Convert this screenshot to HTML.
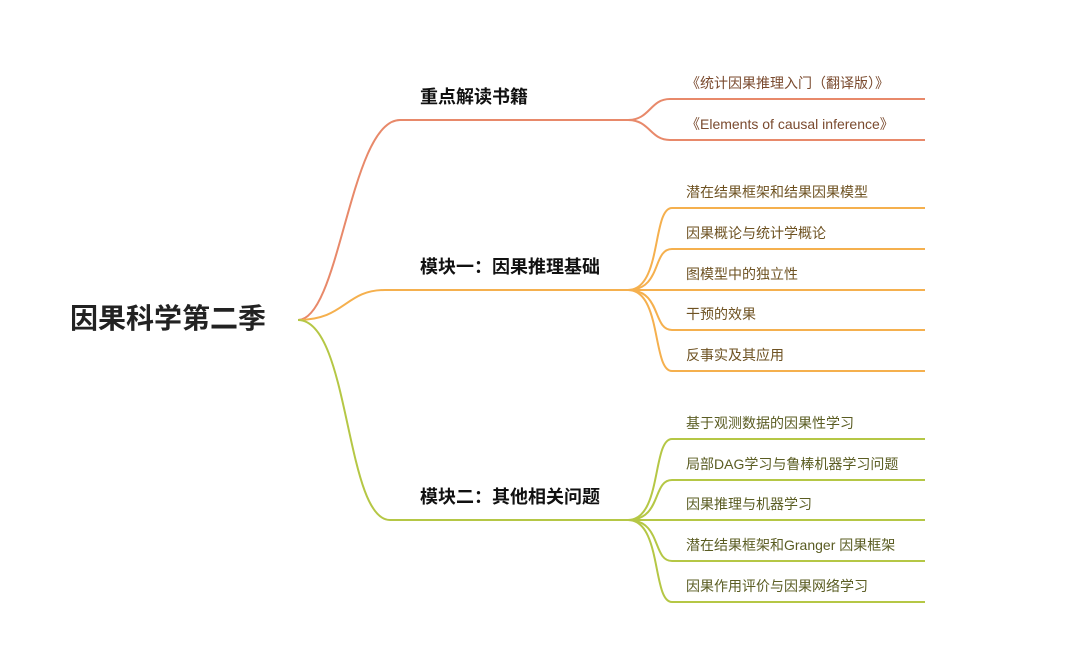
<!DOCTYPE html>
<html><head><meta charset="utf-8"><style>
body{margin:0;width:1080px;height:651px;background:#fff;overflow:hidden;position:relative;font-family:"Liberation Sans","Noto Sans CJK SC",sans-serif}
.t{position:absolute;white-space:nowrap;line-height:1}
.root{left:70px;top:305px;font-size:28px;font-weight:bold;color:#222}
.b{left:420px;font-size:18px;font-weight:bold;color:#111}
.l{left:686px;font-size:14px}
.c1{color:#7a4a2e}.c2{color:#6e5222}.c3{color:#5a5c22}
</style></head><body>
<svg width="1080" height="651" style="position:absolute;left:0;top:0" fill="none" stroke-width="2">
<g stroke="#e8896a">
<path d="M298,320 C340,320 350,120 400,120 L628,120"/>
<path d="M628,120 C650,120 650,99 670,99 L925,99"/>
<path d="M628,120 C650,120 650,140 670,140 L925,140"/>
</g>
<g stroke="#f5b04e">
<path d="M298,320 C345,320 345,290 385,290 L628,290"/>
<path d="M628,290 C662,290 652,208 672,208 L925,208"/>
<path d="M628,290 C662,290 652,249 672,249 L925,249"/>
<path d="M628,290 L925,290"/>
<path d="M628,290 C662,290 652,330 672,330 L925,330"/>
<path d="M628,290 C662,290 652,371 672,371 L925,371"/>
</g>
<g stroke="#b5c745">
<path d="M298,320 C350,320 345,520 390,520 L628,520"/>
<path d="M628,520 C662,520 652,439 672,439 L925,439"/>
<path d="M628,520 C662,520 652,480 672,480 L925,480"/>
<path d="M628,520 L925,520"/>
<path d="M628,520 C662,520 652,561 672,561 L925,561"/>
<path d="M628,520 C662,520 652,602 672,602 L925,602"/>
</g>
</svg>
<div class="t root">因果科学第二季</div>
<div class="t b" style="top:88px">重点解读书籍</div>
<div class="t b" style="top:258px">模块一：因果推理基础</div>
<div class="t b" style="top:488px">模块二：其他相关问题</div>
<div class="t l c1" style="top:76px">《统计因果推理入门（翻译版）》</div>
<div class="t l c1" style="top:117px">《Elements of causal inference》</div>
<div class="t l c2" style="top:185px">潜在结果框架和结果因果模型</div>
<div class="t l c2" style="top:226px">因果概论与统计学概论</div>
<div class="t l c2" style="top:267px">图模型中的独立性</div>
<div class="t l c2" style="top:307px">干预的效果</div>
<div class="t l c2" style="top:348px">反事实及其应用</div>
<div class="t l c3" style="top:416px">基于观测数据的因果性学习</div>
<div class="t l c3" style="top:457px">局部DAG学习与鲁棒机器学习问题</div>
<div class="t l c3" style="top:497px">因果推理与机器学习</div>
<div class="t l c3" style="top:538px">潜在结果框架和Granger 因果框架</div>
<div class="t l c3" style="top:579px">因果作用评价与因果网络学习</div>
</body></html>
